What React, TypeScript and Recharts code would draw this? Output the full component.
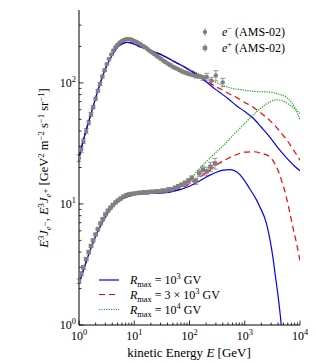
import React from 'react';
import { ComposedChart, Line, Scatter, XAxis, YAxis, ErrorBar } from 'recharts';

const FONT = '"Liberation Serif", "DejaVu Serif", serif';
const GREY = '#808080';

// AMS-02 electron data  (E [GeV], E^3 J, error)
const eleE = [1.0, 1.1, 1.2, 1.35, 1.5, 1.65, 1.8, 2.0, 2.2, 2.4, 2.65, 2.9, 3.2, 3.5, 3.85, 4.2, 4.6, 5.0, 5.5, 6.0, 6.5, 7.1, 7.7, 8.4, 9.2, 10, 11, 12, 13, 14.5, 16, 17.5, 19, 21, 23, 25.5, 28, 31, 34, 37, 41, 45, 50, 55, 61, 67, 74, 82, 91, 100, 115, 130, 150, 175, 205, 250, 300, 400];
const eleV = [24, 28, 33, 40, 47, 55, 63, 74, 86, 98, 113, 127, 143, 158, 172, 185, 197, 207, 216, 222, 226, 229, 230, 229, 226, 222, 218, 213, 208, 202, 196, 190, 184, 178, 173, 167, 162, 157, 152, 148, 144, 140, 136, 133, 130, 127, 124, 122, 120, 118, 116, 114, 113, 110, 112, 104, 115, 101];
const eleErr = [1.5, 1.5, 1.5, 2, 2, 2, 2, 2, 2.5, 2.5, 3, 3, 3, 3, 3, 3, 3, 3, 3, 3, 3, 3, 3, 3, 3, 3, 3, 3, 3, 3, 3, 3, 3, 3, 3, 3, 3, 3, 3, 3, 3, 3, 3, 3, 3, 3, 3, 3, 3, 3, 3.5, 4, 4, 5, 8, 7, 11, 8];

// AMS-02 positron data
const posE = [1.0, 1.1, 1.2, 1.35, 1.5, 1.65, 1.8, 2.0, 2.2, 2.45, 2.7, 3.0, 3.35, 3.7, 4.1, 4.6, 5.1, 5.7, 6.4, 7.2, 8.0, 9.0, 10, 11.5, 13, 15, 17, 19.5, 22, 25, 28.5, 32.5, 37, 42, 48, 55, 63, 72, 83, 96, 110, 130, 150, 175, 205, 240, 290];
const posV = [2.3, 2.65, 3.0, 3.5, 4.0, 4.5, 5.0, 5.6, 6.2, 6.9, 7.5, 8.2, 8.8, 9.3, 9.8, 10.3, 10.7, 11.1, 11.5, 11.8, 12.0, 12.1, 12.2, 12.3, 12.4, 12.5, 12.5, 12.6, 12.6, 12.7, 12.7, 12.9, 12.9, 13.2, 13.2, 13.6, 14.0, 14.4, 14.9, 15.5, 16.3, 15.4, 17.9, 19.2, 18.6, 20.3, 21.6];
const posErr = [0.1, 0.1, 0.1, 0.1, 0.1, 0.1, 0.1, 0.1, 0.1, 0.1, 0.15, 0.15, 0.15, 0.15, 0.15, 0.15, 0.15, 0.15, 0.15, 0.15, 0.2, 0.2, 0.2, 0.2, 0.2, 0.2, 0.2, 0.2, 0.2, 0.25, 0.25, 0.3, 0.3, 0.3, 0.35, 0.4, 0.4, 0.5, 0.6, 0.7, 0.8, 0.9, 1.1, 1.3, 1.5, 1.8, 2.2];

// model curves: shared low-energy part
const eleModelLowE = [1, 1.25, 1.58, 2, 2.5, 3.2, 4, 5, 6.3, 7.5, 9, 11, 13, 16, 20, 30, 50, 77];
const eleModelLowV = [24, 36, 52, 75, 104, 140, 170, 198, 212, 216, 213, 205, 198, 192, 185, 172, 152, 137];
const eleBlueE = [100, 150, 200, 300, 400, 500, 700, 1000, 1400, 2000, 2800, 4000, 5700, 8000, 10000];
const eleBlueV = [127, 113, 102, 88, 80, 74, 65, 58, 51.5, 43, 36, 29, 24, 20.5, 18.8];
const eleRedE = [100, 150, 200, 300, 400, 500, 700, 1000, 1420, 2000, 2830, 4000, 5700, 8000, 10000];
const eleRedV = [128, 115, 105, 93, 87, 82, 76, 69, 63, 56, 49, 41.5, 34, 27, 23];
const eleGreenE = [100, 150, 200, 300, 405, 600, 1000, 1420, 2000, 2830, 4000, 5700, 7000, 8600, 10000];
const eleGreenV = [130, 118, 110, 101, 95, 90, 87, 85, 84.5, 84, 81, 76, 69, 59, 49];

const posModelLowE = [1, 1.25, 1.58, 2, 2.5, 3.2, 4, 5, 6.3, 8, 10, 13, 20, 30, 50];
const posModelLowV = [2.2, 3.0, 4.1, 5.4, 6.7, 8.2, 9.4, 10.4, 11.1, 11.6, 11.9, 12.1, 12.2, 12.3, 12.7];
const posBlueE = [70, 100, 150, 234, 300, 407, 540, 700, 935, 1200, 1630, 1870, 2470, 2900, 3240, 3600, 4000, 4400, 4800];
const posBlueV = [13.2, 14.0, 15.4, 17.3, 18.2, 19.0, 19.2, 18.5, 16.2, 13.6, 10.8, 9.5, 6.9, 4.9, 3.6, 2.5, 1.75, 1.2, 0.8];
const posRedE = [70, 100, 150, 234, 309, 460, 700, 1000, 1420, 2000, 2830, 3500, 4000, 4620, 5500, 6500, 7500, 8600, 10000];
const posRedV = [13.4, 14.6, 16.5, 19.0, 21.0, 23.3, 25.5, 26.8, 27.0, 26.2, 24.5, 21.5, 19.0, 15.7, 12.0, 8.6, 6.3, 4.8, 3.4];
const posGreenE = [70, 100, 150, 204, 309, 460, 617, 900, 1230, 1800, 2470, 3000, 3760, 4600, 5500, 6530, 8000, 10000];
const posGreenV = [14.0, 15.8, 19.5, 22.5, 27, 32, 37, 44, 51, 60, 67, 70.5, 72.5, 71.5, 69, 65.5, 61, 56];

const xMajor = [1, 10, 100, 1000, 10000];
const yMajor = [1, 10, 100];
const minorMult = [2, 3, 4, 5, 6, 7, 8, 9];

const pts = (E: number[], V: number[], Err?: number[]) =>
  E.map((e, i) => ({ E: e, v: V[i], err: Err ? Err[i] : 0 }));

const eleData = pts(eleE, eleV, eleErr);
const posData = pts(posE, posV, posErr);
const eleBlue = pts([...eleModelLowE, ...eleBlueE], [...eleModelLowV, ...eleBlueV]);
const eleRed = pts([...eleModelLowE, ...eleRedE], [...eleModelLowV, ...eleRedV]);
const eleGreen = pts([...eleModelLowE, ...eleGreenE], [...eleModelLowV, ...eleGreenV]);
const posBlue = pts([...posModelLowE, ...posBlueE], [...posModelLowV, ...posBlueV]);
const posRed = pts([...posModelLowE, ...posRedE], [...posModelLowV, ...posRedV]);
const posGreen = pts([...posModelLowE, ...posGreenE], [...posModelLowV, ...posGreenV]);

const withMinor = (majors: number[], max: number) => {
  const out: number[] = [...majors];
  majors.forEach((m) => minorMult.forEach((k) => { if (m * k < max) out.push(m * k); }));
  return out.sort((a, b) => a - b);
};
const xTicks = withMinor(xMajor, 10000);
const yTicks = withMinor(yMajor, 400);

const isMajor = (v: number) => Math.abs(Math.log10(v) - Math.round(Math.log10(v))) < 1e-6;

type Seg = { t: string; up?: number; sm?: boolean; it?: boolean };
function rich(segs: Seg[], size: number) {
  let prev = 0;
  return segs.map((s, i) => {
    const up = s.up ?? 0;
    const dy = -(up - prev);
    prev = up;
    return (
      <tspan key={i} dy={dy} fontSize={s.sm ? size * 0.7 : size} fontStyle={s.it ? 'italic' : 'normal'}>
        {s.t}
      </tspan>
    );
  });
}

const pow10 = (v: number, size: number) => rich([{ t: '10' }, { t: String(Math.round(Math.log10(v))), up: 5, sm: true }], size);

const TK = 4.5;
const tk = 2.5;

const BottomTick = (p: any) => {
  const { x, y, payload } = p;
  const maj = isMajor(payload.value);
  return (
    <g>
      <line x1={x} x2={x} y1={y} y2={y - (maj ? TK : tk)} stroke="#000" strokeWidth={0.8} />
      {maj && (
        <text x={x} y={y + 15} textAnchor="middle" fontFamily={FONT} fill="#000">
          {pow10(payload.value, 12)}
        </text>
      )}
    </g>
  );
};
const TopTick = (p: any) => {
  const { x, y, payload } = p;
  const maj = isMajor(payload.value);
  return <line x1={x} x2={x} y1={y} y2={y + (maj ? TK : tk)} stroke="#000" strokeWidth={0.8} />;
};
const LeftTick = (p: any) => {
  const { x, y, payload } = p;
  const maj = isMajor(payload.value);
  return (
    <g>
      <line x1={x} x2={x + (maj ? TK : tk)} y1={y} y2={y} stroke="#000" strokeWidth={0.8} />
      {maj && (
        <text x={x - 3} y={y + 4} textAnchor="end" fontFamily={FONT} fill="#000">
          {pow10(payload.value, 12)}
        </text>
      )}
    </g>
  );
};
const RightTick = (p: any) => {
  const { x, y, payload } = p;
  const maj = isMajor(payload.value);
  return <line x1={x} x2={x - (maj ? TK : tk)} y1={y} y2={y} stroke="#000" strokeWidth={0.8} />;
};

const Circle = (p: any) => <circle cx={p.cx} cy={p.cy} r={2.2} fill={GREY} />;
const Square = (p: any) => <rect x={p.cx - 2.2} y={p.cy - 2.2} width={4.4} height={4.4} fill={GREY} />;

const BLUE = '#0000ff';
const RED = '#ff0000';
const GREEN = '#1a9e1a';

const lineProps = { type: 'monotone' as const, dataKey: 'v', dot: false, isAnimationActive: false, xAxisId: 'b', yAxisId: 'l', strokeWidth: 1.2 };

export default function App() {
  const yTitle: Seg[] = [
    { t: 'E', it: true }, { t: '3', up: 4, sm: true }, { t: 'J', it: true }, { t: 'e', up: -3, sm: true, it: true }, { t: '−', up: 0, sm: true },
    { t: ', ' }, { t: 'E', it: true }, { t: '3', up: 4, sm: true }, { t: 'J', it: true }, { t: 'e', up: -3, sm: true, it: true }, { t: '+', up: 0, sm: true },
    { t: ' [GeV' }, { t: '2', up: 4, sm: true }, { t: ' m' }, { t: '−2', up: 4, sm: true }, { t: ' s' }, { t: '−1', up: 4, sm: true }, { t: ' sr' }, { t: '−1', up: 4, sm: true }, { t: ']' },
  ];
  const rleg = (mid: Seg[]): Seg[] => [{ t: 'R', it: true }, { t: 'max', up: -3, sm: true }, { t: ' = ' }, ...mid, { t: ' GV' }];
  const legRows = [
    { color: BLUE, dash: undefined as string | undefined, segs: rleg([{ t: '10' }, { t: '3', up: 5, sm: true }]) },
    { color: RED, dash: '6 4', segs: rleg([{ t: '3 × 10' }, { t: '3', up: 5, sm: true }]) },
    { color: GREEN, dash: '1.2 1.2', segs: rleg([{ t: '10' }, { t: '4', up: 5, sm: true }]) },
  ];
  const legY = [272, 286.5, 301.5];
  return (
    <div style={{ position: 'relative', width: 308, height: 355 }}>
      <ComposedChart width={308} height={355} margin={{ top: 2, right: 16, bottom: 0, left: 0 }}>
        <XAxis xAxisId="b" dataKey="E" type="number" scale="log" domain={[1, 10000]} allowDataOverflow ticks={xTicks} interval={0}
          height={38} tickSize={0} tickMargin={0} tickLine={false} tick={<BottomTick />} axisLine={{ stroke: '#000' }} />
        <XAxis xAxisId="t" orientation="top" dataKey="E" type="number" scale="log" domain={[1, 10000]} allowDataOverflow ticks={xTicks} interval={0}
          height={0} tickSize={0} tickMargin={0} tickLine={false} tick={<TopTick />} axisLine={{ stroke: '#000' }} />
        <YAxis yAxisId="l" type="number" scale="log" domain={[1, 400]} allowDataOverflow ticks={yTicks} interval={0}
          width={71} tickSize={0} tickMargin={0} tickLine={false} tick={<LeftTick />} axisLine={{ stroke: '#000' }} />
        <YAxis yAxisId="r" orientation="right" type="number" scale="log" domain={[1, 400]} allowDataOverflow ticks={yTicks} interval={0}
          width={0} tickSize={0} tickMargin={0} tickLine={false} tick={<RightTick />} axisLine={{ stroke: '#000' }} />

        <Scatter data={eleData} dataKey="v" xAxisId="b" yAxisId="l" shape={<Circle />} isAnimationActive={false}>
          <ErrorBar dataKey="err" direction="y" width={2.5} stroke={GREY} strokeWidth={0.8} />
        </Scatter>
        <Scatter data={posData} dataKey="v" xAxisId="b" yAxisId="l" shape={<Square />} isAnimationActive={false}>
          <ErrorBar dataKey="err" direction="y" width={2.5} stroke={GREY} strokeWidth={0.8} />
        </Scatter>

        <Line {...lineProps} data={eleGreen} stroke={GREEN} strokeDasharray="1.2 1.2" />
        <Line {...lineProps} data={posGreen} stroke={GREEN} strokeDasharray="1.2 1.2" />
        <Line {...lineProps} data={eleRed} stroke={RED} strokeDasharray="6 4" />
        <Line {...lineProps} data={posRed} stroke={RED} strokeDasharray="6 4" />
        <Line {...lineProps} data={eleBlue} stroke={BLUE} />
        <Line {...lineProps} data={posBlue} stroke={BLUE} />
      </ComposedChart>

      <svg width={308} height={355} style={{ position: 'absolute', left: 0, top: 0, pointerEvents: 'none' }}>
        <g fontFamily={FONT} fill="#000">
          {/* axis titles */}
          <text x={181} y={349} textAnchor="middle" fontSize={13}>
            {rich([{ t: 'kinetic Energy ' }, { t: 'E', it: true }, { t: ' [GeV]' }], 13)}
          </text>
          <text transform="translate(40,160) rotate(-90)" textAnchor="middle" fontSize={12.5}>
            {rich(yTitle, 12.5)}
          </text>

          {/* data legend */}
          <line x1={197} x2={197} y1={20} y2={28} stroke={GREY} strokeWidth={0.8} />
          <circle cx={197} cy={24} r={2.2} fill={GREY} />
          <line x1={197} x2={197} y1={36} y2={44} stroke={GREY} strokeWidth={0.8} />
          <rect x={194.8} y={37.8} width={4.4} height={4.4} fill={GREY} />
          <text x={214} y={28} fontSize={12}>
            {rich([{ t: 'e', it: true }, { t: '−', up: 5, sm: true }, { t: ' (AMS-02)', up: 0 }], 12)}
          </text>
          <text x={214} y={44} fontSize={12}>
            {rich([{ t: 'e', it: true }, { t: '+', up: 5, sm: true }, { t: ' (AMS-02)', up: 0 }], 12)}
          </text>

          {/* model legend */}
          {legRows.map((r, i) => (
            <g key={i}>
              <line x1={91} x2={111} y1={legY[i]} y2={legY[i]} stroke={r.color} strokeWidth={1.2} strokeDasharray={r.dash} />
              <text x={122} y={legY[i] + 4} fontSize={12}>
                {rich(r.segs, 12)}
              </text>
            </g>
          ))}
        </g>
      </svg>
    </div>
  );
}
